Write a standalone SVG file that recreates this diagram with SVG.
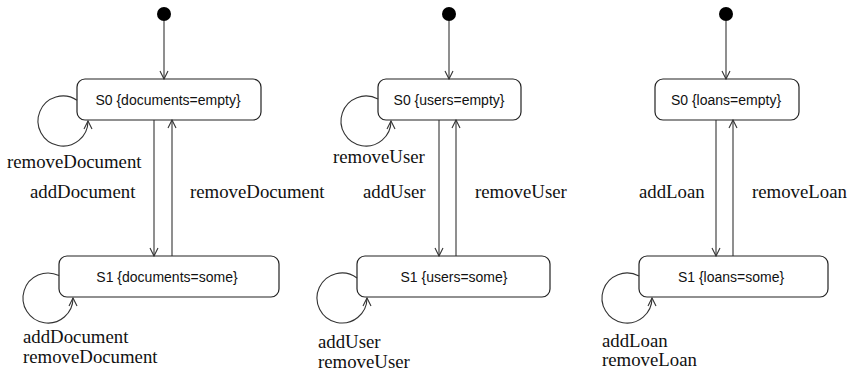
<svg xmlns="http://www.w3.org/2000/svg" width="850" height="372" viewBox="0 0 850 372">
<style>
.bg{fill:#fff}
.state rect{fill:#fff;stroke:#222;stroke-width:1.2}
.state text{font-family:"Liberation Sans",Arial,sans-serif;font-size:14px;fill:#111;text-anchor:middle}
.init{fill:#000}
.conn path{fill:none;stroke:#333;stroke-width:1.1;marker-end:url(#arr)}
.lbl{font-family:"Liberation Serif","Times New Roman",serif;font-size:18.8px;fill:#111}
</style>
<defs>
<marker id="arr" markerUnits="userSpaceOnUse" markerWidth="10" markerHeight="10" refX="9" refY="5" orient="auto" viewBox="0 0 10 10">
<path d="M1,1 L9,5 L1,9" fill="none" stroke="#333" stroke-width="1.1"/>
</marker>
</defs>
<rect class="bg" width="850" height="372"/>

<!-- Diagram 1 -->
<g id="d1-init"><circle class="init" cx="164" cy="14" r="7"/></g>
<g id="d1-s0" class="state"><rect x="77" y="79" width="184" height="41" rx="8"/><text x="168" y="105">S0 {documents=empty}</text></g>
<g id="d1-s1" class="state"><rect x="59" y="256" width="220" height="41" rx="8"/><text x="167" y="282">S1 {documents=some}</text></g>

<!-- Diagram 2 -->
<g id="d2-init"><circle class="init" cx="449" cy="14" r="7"/></g>
<g id="d2-s0" class="state"><rect x="378" y="79" width="143" height="41" rx="8"/><text x="449" y="105">S0 {users=empty}</text></g>
<g id="d2-s1" class="state"><rect x="357" y="256" width="193" height="41" rx="8"/><text x="454" y="282">S1 {users=some}</text></g>

<!-- Diagram 3 -->
<g id="d3-init"><circle class="init" cx="726" cy="14" r="7"/></g>
<g id="d3-s0" class="state"><rect x="655" y="79" width="144" height="41" rx="8"/><text x="726" y="105">S0 {loans=empty}</text></g>
<g id="d3-s1" class="state"><rect x="639" y="256" width="189" height="41" rx="8"/><text x="731" y="282">S1 {loans=some}</text></g>

<g id="connectors" class="conn">
<!-- D1 -->
<path d="M164 21 L164 79"/>
<path d="M154 120 L154 256"/>
<path d="M172 256 L172 120"/>
<path d="M77 100.3 A25 25 0 1 0 88 121"/>
<path d="M59 275.6 A25 25 0 1 0 73 298"/>
<!-- D2 -->
<path d="M449 21 L449 79"/>
<path d="M439 120 L439 256"/>
<path d="M456 256 L456 120"/>
<path d="M378 99.1 A25 25 0 1 0 391 121"/>
<path d="M357 278 A25 25 0 1 0 367 298"/>
<!-- D3 -->
<path d="M726 21 L726 79"/>
<path d="M716 120 L716 256"/>
<path d="M733 256 L733 120"/>
<path d="M639 276.1 A25 25 0 1 0 652 298"/>
</g>

<g id="labels">
<text class="lbl" x="7" y="168">removeDocument</text>
<text class="lbl" x="30" y="198">addDocument</text>
<text class="lbl" x="190" y="198">removeDocument</text>
<text class="lbl" x="23" y="343">addDocument</text>
<text class="lbl" x="23" y="363">removeDocument</text>

<text class="lbl" x="333" y="163">removeUser</text>
<text class="lbl" x="363" y="198">addUser</text>
<text class="lbl" x="475" y="198">removeUser</text>
<text class="lbl" x="318" y="348">addUser</text>
<text class="lbl" x="318" y="368">removeUser</text>

<text class="lbl" x="639" y="198">addLoan</text>
<text class="lbl" x="752" y="198">removeLoan</text>
<text class="lbl" x="602" y="347">addLoan</text>
<text class="lbl" x="602" y="366">removeLoan</text>
</g>
</svg>
